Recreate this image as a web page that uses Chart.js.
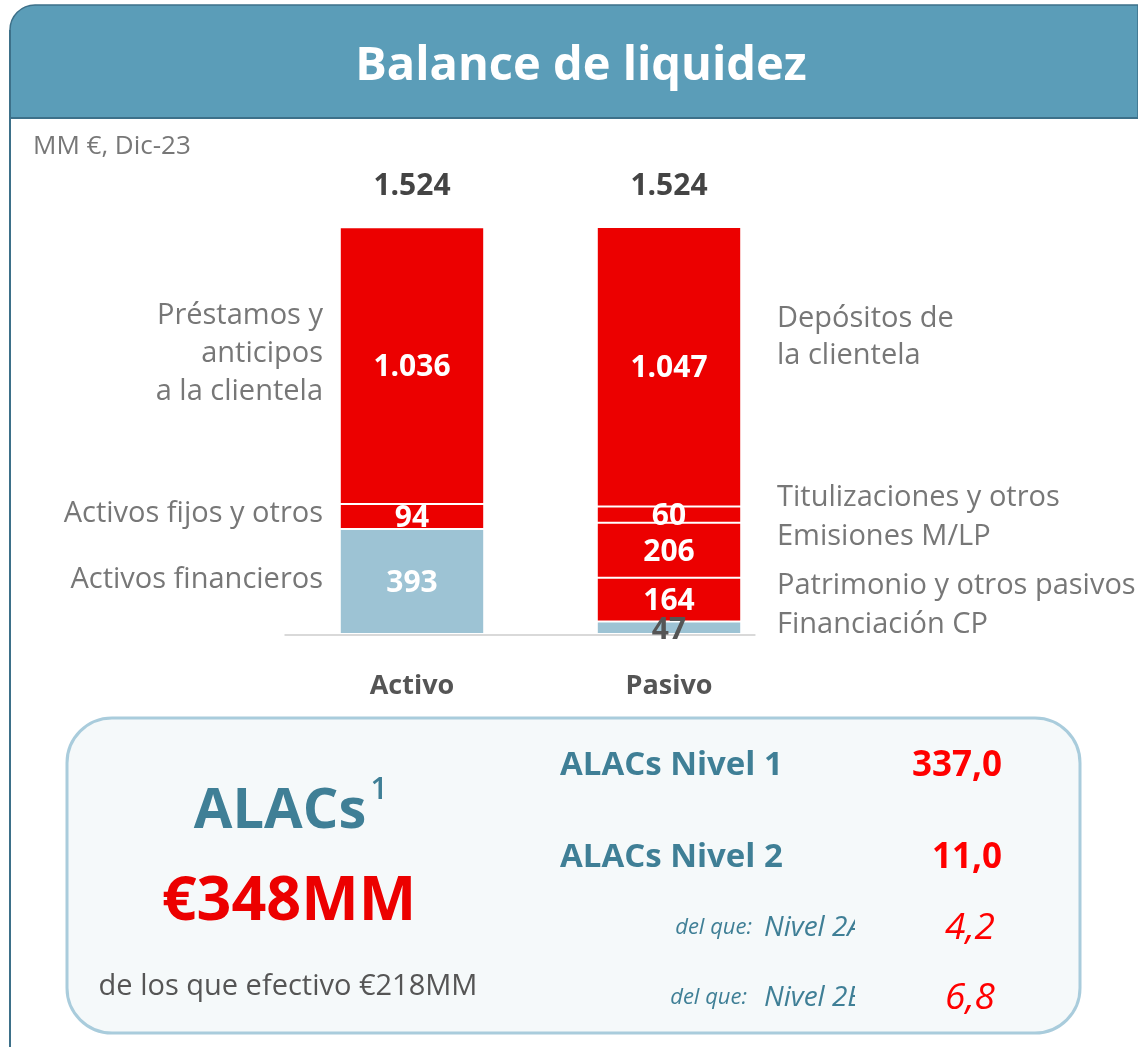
<!DOCTYPE html>
<html>
<head>
<meta charset="utf-8">
<script src="https://cdn.jsdelivr.net/npm/chart.js@4.4.1/dist/chart.umd.min.js"></script>
<style>
  html, body { margin: 0; padding: 0; background: #fff; }
  canvas { display: block; }
</style>
</head>
<body>
<canvas id="chart" width="1138" height="1047"></canvas>
<script>
// Datos del balance (MM €, Dic-23)
const categories = ["Activo", "Pasivo"];
const totals = ["1.524", "1.524"];

// Segmentos de abajo hacia arriba
const activoValues = [393, 94, 1036];
const activoLabels = ["393", "94", "1.036"];
const pasivoValues = [47, 164, 206, 60, 1047];
const pasivoLabels = ["47", "164", "206", "60", "1.047"];

const activoNames = [["Activos financieros"], ["Activos fijos y otros"], ["Préstamos y", "anticipos", "a la clientela"]];
const pasivoNames = [["Financiación CP"], ["Patrimonio y otros pasivos"], ["Emisiones M/LP"], ["Titulizaciones y otros"], ["Depósitos de", "la clientela"]];

// ALACs
const alacsTotal = "€348MM";
const alacsCash = "de los que efectivo €218MM";
const alacsRows = ["ALACs Nivel 1", "ALACs Nivel 2"];
const alacsRowValues = ["337,0", "11,0"];
const alacsSubRows = ["Nivel 2A", "Nivel 2B"];
const alacsSubValues = ["4,2", "6,8"];

const RED = "#ec0000";
const BLUE = "#9dc3d4";
const TEAL = "#3f7f96";
const FONT = "'Open Sans', sans-serif";

// un dataset por nivel de la pila
const levels = Math.max(activoValues.length, pasivoValues.length);
const datasets = [];
for (let i = 0; i < levels; i++) {
  datasets.push({
    data: [activoValues[i] ?? null, pasivoValues[i] ?? null],
    labels: [activoLabels[i] ?? "", pasivoLabels[i] ?? ""],
    backgroundColor: i === 0 ? BLUE : RED,
    borderColor: "#ffffff",
    borderWidth: { top: 1, bottom: 1, left: 0, right: 0 },
    borderSkipped: false,
    barPercentage: 0.556,
    categoryPercentage: 1,
  });
}

function roundRect(ctx, x, y, w, h, r) {
  ctx.beginPath();
  ctx.moveTo(x + r, y);
  ctx.lineTo(x + w - r, y);
  ctx.arcTo(x + w, y, x + w, y + r, r);
  ctx.lineTo(x + w, y + h - r);
  ctx.arcTo(x + w, y + h, x + w - r, y + h, r);
  ctx.lineTo(x + r, y + h);
  ctx.arcTo(x, y + h, x, y + h - r, r);
  ctx.lineTo(x, y + r);
  ctx.arcTo(x, y, x + r, y, r);
  ctx.closePath();
}

function text(ctx, str, x, y, font, color, align) {
  ctx.font = font;
  ctx.fillStyle = color;
  ctx.textAlign = align || "left";
  ctx.textBaseline = "middle";
  ctx.fillText(str, x, y);
}

// Fondo, cabecera y recuadro de ALACs
const decorPlugin = {
  id: "decor",
  beforeDraw(chart) {
    const ctx = chart.ctx;
    ctx.save();
    ctx.fillStyle = "#fff";
    ctx.fillRect(0, 0, chart.width, chart.height);

    // cabecera
    ctx.beginPath();
    ctx.moveTo(10, 118);
    ctx.lineTo(10, 30);
    ctx.arcTo(10, 5, 35, 5, 25);
    ctx.lineTo(1138, 5);
    ctx.lineTo(1138, 118);
    ctx.closePath();
    ctx.fillStyle = "#5b9db8";
    ctx.fill();
    ctx.strokeStyle = "#3d7089";
    ctx.lineWidth = 1.5;
    ctx.stroke();
    ctx.fillStyle = "#3d7089";
    ctx.fillRect(10, 117, 1128, 2);
    ctx.fillRect(9, 30, 2, 1017);
    text(ctx, "Balance de liquidez", 581, 67, `bold 47px ${FONT}`, "#fff", "center");

    text(ctx, "MM €, Dic-23", 33, 147, `26px ${FONT}`, "#777", "left");

    // recuadro ALACs
    roundRect(ctx, 67, 718, 1013, 315, 45);
    ctx.fillStyle = "#f5f9fa";
    ctx.fill();
    ctx.strokeStyle = "#a9ccdc";
    ctx.lineWidth = 3;
    ctx.stroke();

    text(ctx, "ALACs", 280, 812, `bold 56px ${FONT}`, TEAL, "center");
    text(ctx, "1", 379, 790, `600 30px ${FONT}`, TEAL, "center");
    text(ctx, alacsTotal, 289, 903, `bold 61px ${FONT}`, RED, "center");
    text(ctx, alacsCash, 288, 987, `29px ${FONT}`, "#555", "center");

    const rowY = [766, 858];
    alacsRows.forEach((r, i) => {
      text(ctx, r, 560, rowY[i], `bold 33px ${FONT}`, TEAL, "left");
      text(ctx, alacsRowValues[i], 1002, rowY[i], `bold 35px ${FONT}`, "#ff0000", "right");
    });
    const subY = [928, 998];
    const subRight = [752, 747];
    alacsSubRows.forEach((r, i) => {
      text(ctx, "del que:", subRight[i], subY[i], `italic 22px ${FONT}`, TEAL, "right");
      ctx.save();
      ctx.beginPath();
      ctx.rect(760, subY[i] - 30, 95, 60);
      ctx.clip();
      text(ctx, r, 764, subY[i], `italic 28px ${FONT}`, TEAL, "left");
      ctx.restore();
      text(ctx, alacsSubValues[i], 995, subY[i], `italic 37px ${FONT}`, "#ff0000", "right");
    });
    ctx.restore();
  },
  afterDatasetsDraw(chart) {
    const ctx = chart.ctx;
    const x = chart.scales.x;
    const y = chart.scales.y;
    ctx.save();

    // línea base
    const lastBar = chart.getDatasetMeta(0).data[1];
    ctx.fillStyle = "#d9d9d9";
    ctx.fillRect(chart.chartArea.left + 1, y.getPixelForValue(0), lastBar.x + lastBar.width / 2 + 14 - chart.chartArea.left, 2);

    // etiquetas de los segmentos
    chart.data.datasets.forEach((ds, di) => {
      chart.getDatasetMeta(di).data.forEach((el, i) => {
        if (ds.data[i] == null) return;
        const cy = (el.y + el.base) / 2;
        const isSmallBlue = di === 0 && ds.data[i] < 100;
        text(ctx, ds.labels[i], el.x, cy + (isSmallBlue ? 3 : 2), `bold 30px ${FONT}`, isSmallBlue ? "#555" : "#fff", "center");
      });
    });

    // totales y categorías
    categories.forEach((c, i) => {
      const px = x.getPixelForValue(i);
      text(ctx, totals[i], px, 186, `bold 30px ${FONT}`, "#444", "center");
      text(ctx, c, px, 686, `bold 27px ${FONT}`, "#555", "center");
    });

    // nombres de los segmentos
    const sideFont = `29px ${FONT}`;
    const leftY = [[580], [514], [316, 354, 392]];
    activoNames.forEach((lines, i) => {
      lines.forEach((l, j) => text(ctx, l, 323, leftY[i][j], sideFont, "#777", "right"));
    });
    const rightY = [[625], [586], [537], [498], [319, 356]];
    pasivoNames.forEach((lines, i) => {
      lines.forEach((l, j) => text(ctx, l, 777, rightY[i][j], sideFont, "#777", "left"));
    });
    ctx.restore();
  },
};

new Chart(document.getElementById("chart"), {
  type: "bar",
  data: { labels: categories, datasets },
  options: {
    responsive: false,
    animation: false,
    layout: { padding: { top: 227, bottom: 413, left: 283.5, right: 340.5 } },
    plugins: { legend: { display: false }, tooltip: { enabled: false } },
    scales: {
      x: { stacked: true, display: false },
      y: { stacked: true, display: false, min: 0, max: 1524 },
    },
  },
  plugins: [decorPlugin],
});
</script>
</body>
</html>
